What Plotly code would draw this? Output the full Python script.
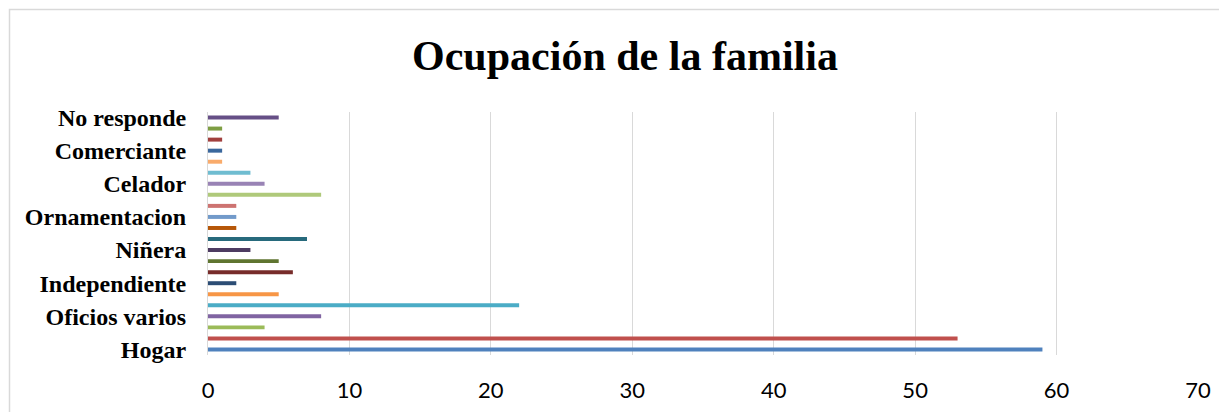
import plotly.graph_objects as go

# Values per bar, bottom to top (22 bars)
values = [59, 53, 4, 8, 22, 5, 2, 6, 5, 3, 7, 2, 2, 2, 8, 4, 3, 1, 1, 1, 1, 5]
# Labelled categories (every third bar carries a label)
tick_labels = ["Hogar", "Oficios varios", "Independiente", "Niñera",
               "Ornamentacion", "Celador", "Comerciante", "No responde"]
tick_positions = [0, 3, 6, 9, 12, 15, 18, 21]
x_ticks = [0, 10, 20, 30, 40, 50, 60, 70]

colors = ["#4F81BD", "#C0504D", "#9BBB59", "#8064A2", "#4BACC6", "#F79646",
          "#2C4D75", "#772C2A", "#5F7530", "#4D3B62", "#276A7C", "#B65708",
          "#729ACA", "#CD7371", "#AFC97A", "#9983B5", "#6FBDD1", "#F9AB6B",
          "#3A679C", "#A13F3D", "#7E9E43", "#664F86"]

idx = list(range(len(values)))

fig = go.Figure(go.Bar(
    x=values, y=idx, orientation="h",
    marker=dict(color=colors, line=dict(width=0)),
    width=0.36,
))

OFF = 8  # page body margin
W, H = 1227 - OFF, 412 - OFF
ml, mr, mt, mb = 208 - OFF, 29, 112 - OFF, 57
pw, ph = W - ml - mr, H - mt - mb

def px_x(p):
    return (p - OFF - ml) / pw

def px_y(p):
    return (H - mb - (p - OFF)) / ph

fig.update_layout(
    width=W, height=H,
    margin=dict(l=ml, r=mr, t=mt, b=mb, autoexpand=False),
    paper_bgcolor="white", plot_bgcolor="white",
    showlegend=False,
    title=dict(text="<b>Ocupación de la familia</b>",
               font=dict(family="Liberation Serif, Times New Roman, serif", size=42, color="black"),
               x=(625 - OFF) / W, xref="container", xanchor="center",
               y=1 - (55 - OFF) / H, yref="container", yanchor="middle"),
    xaxis=dict(range=[0, 70], tickvals=x_ticks, showgrid=True, gridcolor="#D9D9D9", gridwidth=1,
               zeroline=False, showline=False, ticks="",
               tickfont=dict(family="Lato, Carlito, sans-serif", size=22, color="black"),
               ticklabelstandoff=20),
    yaxis=dict(range=[-0.5, 21.5], tickvals=tick_positions, ticktext=tick_labels,
               showgrid=False, zeroline=False, showline=True, linecolor="#D9D9D9", linewidth=1,
               ticks="", ticklabelstandoff=16,
               tickfont=dict(family="Liberation Serif, Times New Roman, serif", size=24, color="black")),
    shapes=[dict(type="rect", xref="paper", yref="paper",
                 x0=px_x(9.5), x1=px_x(1240), y0=px_y(430), y1=px_y(9.5),
                 line=dict(color="#D9D9D9", width=1.5), fillcolor="rgba(0,0,0,0)", layer="below")],
)

fig.update_yaxes(tickfont_weight="bold")

fig.write_html("out.html")
